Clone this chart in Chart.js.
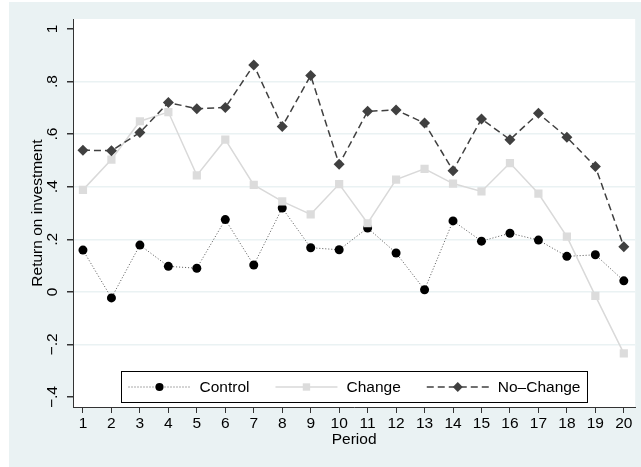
<!DOCTYPE html>
<html>
<head>
<meta charset="utf-8">
<script src="https://cdn.jsdelivr.net/npm/chart.js"></script>
<style>
  html, body { margin: 0; padding: 0; background: #fff; }
  #wrap { width: 641px; height: 467px; }
</style>
</head>
<body>
<div id="wrap"><canvas id="roi"></canvas></div>
<script>
// data
const periods = [1, 2, 3, 4, 5, 6, 7, 8, 9, 10, 11, 12, 13, 14, 15, 16, 17, 18, 19, 20];
const control = [0.159, -0.023, 0.178, 0.097, 0.090, 0.275, 0.102, 0.319, 0.168, 0.160,
                 0.243, 0.148, 0.008, 0.270, 0.193, 0.223, 0.197, 0.135, 0.141, 0.042];
const change = [0.388, 0.503, 0.649, 0.684, 0.443, 0.579, 0.407, 0.344, 0.295, 0.410,
                0.261, 0.427, 0.468, 0.412, 0.382, 0.490, 0.374, 0.210, -0.015, -0.234];
const noChange = [0.539, 0.537, 0.606, 0.720, 0.697, 0.701, 0.863, 0.629, 0.823, 0.485,
                  0.687, 0.692, 0.642, 0.461, 0.658, 0.579, 0.679, 0.588, 0.477, 0.172];
const yTicks = [-0.4, -0.2, 0, 0.2, 0.4, 0.6, 0.8, 1];
const yTickLabels = ['\u2212.4', '\u2212.2', '0', '.2', '.4', '.6', '.8', '1'];
const seriesNames = ['Control', 'Change', 'No\u2013Change'];

const FONT = '"Liberation Sans", Arial, sans-serif';
const FSIZE = 15.5;
const BG = '#eaf2f3';
const AXIS = '#333333';

const toPoints = vals => periods.map((p, i) => ({ x: p, y: vals[i] }));

function drawMarker(ctx, style, r, x, y) {
    if (style === 'circle') {
        ctx.arc(x, y, r, 0, Math.PI * 2);
    } else if (style === 'rect') {
        const s = Math.SQRT1_2 * r;
        ctx.rect(x - s, y - s, 2 * s, 2 * s);
    } else {
        ctx.moveTo(x, y - r);
        ctx.lineTo(x + r, y);
        ctx.lineTo(x, y + r);
        ctx.lineTo(x - r, y);
        ctx.closePath();
    }
}

// background, white plot region, rotated y labels, legend
const stataLook = {
    id: 'stataLook',
    beforeDraw(chart) {
        const { ctx, chartArea: a } = chart;
        ctx.save();
        ctx.fillStyle = BG;
        ctx.fillRect(9, 2, chart.width - 9, chart.height - 2);
        ctx.fillStyle = '#fff';
        ctx.fillRect(a.left, a.top, a.right - a.left, a.bottom - a.top);
        ctx.restore();
    },
    afterDraw(chart) {
        const { ctx, chartArea: a } = chart;
        const ys = chart.scales.y;
        ctx.save();
        ctx.fillStyle = '#000';
        ctx.font = FSIZE + 'px ' + FONT;
        ctx.textAlign = 'center';
        ctx.textBaseline = 'middle';
        yTicks.forEach((v, i) => {
            ctx.save();
            ctx.translate(53, ys.getPixelForValue(v));
            ctx.rotate(-Math.PI / 2);
            ctx.fillText(yTickLabels[i], 0, 0);
            ctx.restore();
        });

        // legend box
        const sampleW = 62, gap = 9, itemGap = 26, padX = 7;
        const widths = seriesNames.map(n => ctx.measureText(n).width);
        let total = padX * 2 + itemGap * (seriesNames.length - 1);
        widths.forEach(w => { total += sampleW + gap + w; });
        const boxH = 31;
        const boxX = Math.round((a.left + a.right) / 2 - total / 2) + 0.5;
        const boxY = Math.round(a.bottom - 5 - boxH) + 0.5;
        ctx.fillStyle = '#fff';
        ctx.fillRect(boxX, boxY, total, boxH);
        ctx.strokeStyle = '#000';
        ctx.lineWidth = 1;
        ctx.strokeRect(boxX, boxY, total, boxH);

        const cy = boxY + boxH / 2;
        let x = boxX + padX;
        chart.data.datasets.forEach((ds, i) => {
            ctx.save();
            ctx.strokeStyle = ds.borderColor;
            ctx.lineWidth = ds.borderWidth;
            ctx.setLineDash(ds.borderDash || []);
            ctx.beginPath();
            ctx.moveTo(x, cy);
            ctx.lineTo(x + sampleW, cy);
            ctx.stroke();
            ctx.restore();
            ctx.save();
            ctx.fillStyle = ds.pointBackgroundColor;
            ctx.beginPath();
            drawMarker(ctx, ds.pointStyle, ds.pointRadius * 0.9, x + sampleW / 2, cy);
            ctx.fill();
            ctx.restore();
            ctx.fillStyle = '#000';
            ctx.textAlign = 'left';
            ctx.fillText(seriesNames[i], x + sampleW + gap, cy + 1);
            x += sampleW + gap + widths[i] + itemGap;
        });
        ctx.restore();
    }
};

new Chart(document.getElementById('roi'), {
    type: 'line',
    data: {
        datasets: [
            {
                label: seriesNames[0],
                data: toPoints(control),
                borderColor: '#555555',
                borderWidth: 1,
                borderDash: [1, 2],
                pointStyle: 'circle',
                pointRadius: 4.5,
                pointBackgroundColor: '#000',
                pointBorderWidth: 0,
                order: 3
            },
            {
                label: seriesNames[1],
                data: toPoints(change),
                borderColor: '#d9d9d9',
                borderWidth: 1.5,
                pointStyle: 'rect',
                pointRadius: 5.8,
                pointBackgroundColor: '#dcdcdc',
                pointBorderWidth: 0,
                order: 2
            },
            {
                label: seriesNames[2],
                data: toPoints(noChange),
                borderColor: '#404040',
                borderWidth: 1.5,
                borderDash: [7, 4],
                pointStyle: 'rectRot',
                pointRadius: 5.5,
                pointBackgroundColor: '#404040',
                pointBorderWidth: 0,
                order: 1
            }
        ]
    },
    options: {
        responsive: true,
        maintainAspectRatio: false,
        animation: false,
        layout: { padding: { left: 0, top: 19, right: 5, bottom: 0 } },
        plugins: {
            legend: { display: false },
            tooltip: { enabled: false }
        },
        scales: {
            x: {
                type: 'linear',
                min: 0.65,
                max: 20.4,
                afterBuildTicks: s => { s.ticks = periods.map(v => ({ value: v })); },
                afterFit: s => { s.height = 60; },
                grid: { drawOnChartArea: false, tickLength: 6, tickColor: AXIS },
                border: { color: AXIS, width: 1 },
                ticks: {
                    color: '#000',
                    font: { family: FONT, size: FSIZE },
                    padding: 1,
                    maxRotation: 0,
                    autoSkip: false
                },
                title: {
                    display: true,
                    text: 'Period',
                    color: '#000',
                    font: { family: FONT, size: FSIZE },
                    padding: { top: 0, bottom: 18 }
                }
            },
            y: {
                type: 'linear',
                min: -0.438,
                max: 1.038,
                afterBuildTicks: s => { s.ticks = yTicks.map(v => ({ value: v })); },
                afterFit: s => { s.width = 73; },
                grid: {
                    color: c => (c.tick && (c.tick.value === 1 || c.tick.value === -0.4)) ? 'rgba(0,0,0,0)' : BG,
                    lineWidth: 1.5,
                    tickLength: 6,
                    tickColor: AXIS
                },
                border: { color: AXIS, width: 1 },
                ticks: { display: false },
                title: {
                    display: true,
                    text: 'Return on investment',
                    color: '#000',
                    font: { family: FONT, size: FSIZE },
                    padding: { top: 28, bottom: 0 }
                }
            }
        }
    },
    plugins: [stataLook]
});
</script>
</body>
</html>
